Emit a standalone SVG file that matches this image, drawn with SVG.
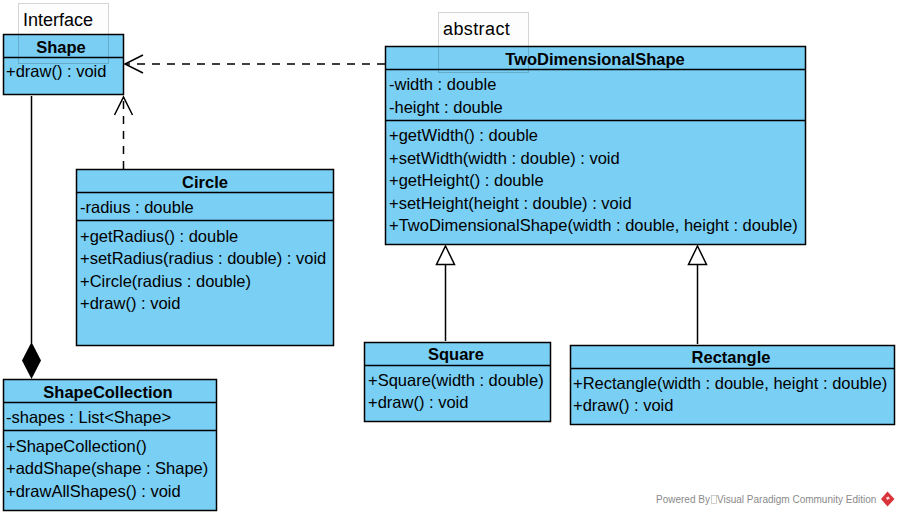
<svg xmlns="http://www.w3.org/2000/svg" width="900" height="516" viewBox="0 0 900 516">
<style>
text{font-family:"Liberation Sans",Arial,sans-serif;font-size:16.5px;fill:#000}
.box{fill:#7acff5;stroke:#000;stroke-width:1.5}
.sep{stroke:#000;stroke-width:1.5;fill:none}
.title{font-weight:bold;text-anchor:middle}
.note{fill:#808080;fill-opacity:.015;stroke:#000;stroke-opacity:.16;stroke-width:1}
.notetext{font-size:18px}
.line{stroke:#000;stroke-width:1.5;fill:none}
.dash{stroke-dasharray:8 7}
.wm{font-size:10px;fill:#8a8a8a}
</style>
<rect width="900" height="516" fill="#fff"/>
<g id="connectors">
<path class="line dash" d="M385 64H125"/>
<path class="line" d="M143 55L125 64L143 73"/>
<path class="line dash" d="M123.500 169V97"/>
<path class="line" d="M114.500 115L123.500 97L132.500 115"/>
<path class="line" d="M31.500 96V343"/>
<path d="M31.500 342L41 360.500L31.500 379L22 360.500Z" fill="#000"/>
<path class="line" d="M445.500 341V264"/>
<path d="M445.500 246L454.500 264.500H436.500Z" fill="#fff" stroke="#000" stroke-width="1.500"/>
<path class="line" d="M697.500 344V264"/>
<path d="M697.500 246L706.500 264.500H688.500Z" fill="#fff" stroke="#000" stroke-width="1.500"/>
</g>
<g id="shape">
<rect class="box" x="3.500" y="34.500" width="120" height="60"/>
<path class="sep" d="M3.500 57.500H123.500"/>
<text class="title" x="61" y="52.500">Shape</text>
<text x="6" y="77">+draw() : void</text>
</g>
<g id="note-interface">
<rect class="note" x="18.500" y="3.500" width="90" height="60"/>
<text class="notetext" x="23" y="26">Interface</text>
</g>
<g id="two-dimensional-shape">
<rect class="box" x="385.500" y="46.500" width="420" height="198"/>
<path class="sep" d="M385.500 69.500H805.500M385.500 120.500H805.500"/>
<text class="title" x="595" y="65">TwoDimensionalShape</text>
<text x="389" y="90">-width : double</text>
<text x="389" y="113">-height : double</text>
<text x="389" y="141">+getWidth() : double</text>
<text x="389" y="164">+setWidth(width : double) : void</text>
<text x="389" y="186">+getHeight() : double</text>
<text x="389" y="209">+setHeight(height : double) : void</text>
<text x="389" y="231">+TwoDimensionalShape(width : double, height : double)</text>
</g>
<g id="note-abstract">
<rect class="note" x="438.500" y="12.500" width="90" height="60"/>
<text class="notetext" x="443" y="35" letter-spacing=".4">abstract</text>
</g>
<g id="circle">
<rect class="box" x="76.500" y="169.500" width="257" height="176"/>
<path class="sep" d="M76.500 192.500H333.500M76.500 220.500H333.500"/>
<text class="title" x="205" y="188">Circle</text>
<text x="80" y="213">-radius : double</text>
<text x="80" y="242">+getRadius() : double</text>
<text x="80" y="264">+setRadius(radius : double) : void</text>
<text x="80" y="287">+Circle(radius : double)</text>
<text x="80" y="309">+draw() : void</text>
</g>
<g id="square">
<rect class="box" x="364.500" y="342.500" width="186" height="79"/>
<path class="sep" d="M364.500 365.500H550.500"/>
<text class="title" x="456" y="360">Square</text>
<text x="368" y="386">+Square(width : double)</text>
<text x="368" y="408">+draw() : void</text>
</g>
<g id="rectangle">
<rect class="box" x="570.500" y="345.500" width="324" height="79"/>
<path class="sep" d="M570.500 368.500H894.500"/>
<text class="title" x="731" y="363">Rectangle</text>
<text x="573" y="389">+Rectangle(width : double, height : double)</text>
<text x="573" y="411">+draw() : void</text>
</g>
<g id="shape-collection">
<rect class="box" x="3.500" y="379.500" width="213" height="131"/>
<path class="sep" d="M3.500 402.500H216.500M3.500 430.500H216.500"/>
<text class="title" x="108" y="398">ShapeCollection</text>
<text x="6" y="423">-shapes : List&lt;Shape&gt;</text>
<text x="6" y="452">+ShapeCollection()</text>
<text x="6" y="474">+addShape(shape : Shape)</text>
<text x="6" y="497">+drawAllShapes() : void</text>
</g>
<g id="watermark">
<text class="wm" x="656" y="503">Powered By</text>
<rect x="711.500" y="495.500" width="5" height="8" fill="#fff" stroke="#bbb" stroke-width=".7"/>
<text class="wm" x="717" y="503">Visual Paradigm Community Edition</text>
<path d="M887.500 491.500L894.500 499L887.500 506.500L881 499Z" fill="#d8343a"/>
<path d="M886 497.500L888.500 496.500L890 498.500L887 500Z" fill="#fbd5d5"/>
</g>
</svg>
